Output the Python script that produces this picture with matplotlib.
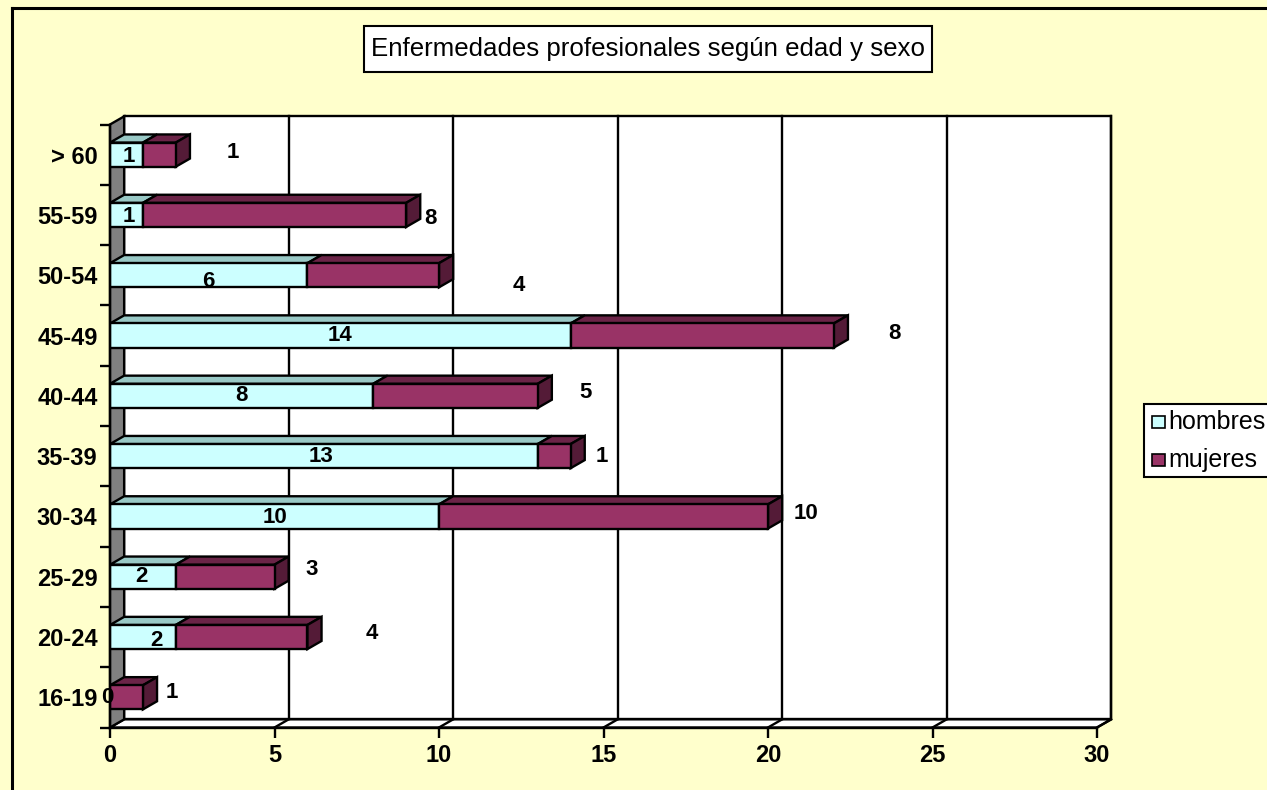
import numpy as np
import matplotlib
matplotlib.use("Agg")
import matplotlib.pyplot as plt
from matplotlib.patches import Polygon, Rectangle
from matplotlib.lines import Line2D
from matplotlib import transforms

# ========== data ==========
categories = ["16-19", "20-24", "25-29", "30-34", "35-39",
              "40-44", "45-49", "50-54", "55-59", "> 60"]
hombres = [0, 2, 2, 10, 13, 8, 14, 6, 1, 1]
mujeres = [1, 4, 3, 10, 1, 5, 8, 4, 8, 1]
x_ticks = [0, 5, 10, 15, 20, 25, 30]
series_names = ["hombres", "mujeres"]
title = "Enfermedades profesionales según edad y sexo"

# ========== style / layout ==========
plt.rcParams["font.family"] = ["Liberation Sans", "DejaVu Sans"]

BG = "#FFFFCC"
COL_H, COL_H_TOP = "#CCFFFF", "#99C9C6"
COL_M, COL_M_TOP, COL_M_SIDE = "#993366", "#6B2447", "#541B37"
WALL = "#808080"
LW = 1.7

W, H = 1267, 790
PX_X, PX_Y = 32.9, 60.3      # pixels per x unit / per category
DX, DY = 0.43, 0.135          # 3D depth in data units
BAR_H = 0.4
X_MAX = x_ticks[-1]

# label nudges in pixels (Excel puts them a bit off)
h_lab_off = [(-3, 0), (14, 3), (-1, 0), (0, 1), (-3, 0), (0, 0), (0, 0), (0, 6), (2, 2), (2, 2)]
m_lab_off = [(29, -5), (64, -4), (37, -7), (38, -3), (31, 0),
             (48, -3), (61, -2), (80, 10), (24, 4), (57, -2)]


def fx(px):
    return px / W


def fy(py):
    return 1 - py / H


n = len(categories)
y = np.arange(n)
h = np.array(hombres, dtype=float)
m = np.array(mujeres, dtype=float)

fig = plt.figure(figsize=(W / 100, H / 100), dpi=100, facecolor=BG)
ax_w = PX_X * (X_MAX + DX)
ax_h = PX_Y * (n + DY)
ax = fig.add_axes([fx(110), fy(727.5), ax_w / W, ax_h / H])
ax.set_facecolor("none")
ax.set_xlim(0, X_MAX + DX)
ax.set_ylim(-0.5, n - 0.5 + DY)

y0, y1 = -0.5, n - 0.5

# back wall + grid
ax.add_patch(Rectangle((DX, y0 + DY), X_MAX, n, facecolor="white",
                       edgecolor="black", lw=LW, zorder=1, clip_on=False))
# floor
ax.add_patch(Polygon([(0, y0), (X_MAX, y0), (X_MAX + DX, y0 + DY), (DX, y0 + DY)],
                     closed=True, facecolor="white", edgecolor="black", lw=LW,
                     zorder=1.2, clip_on=False))
for t in x_ticks[1:]:
    ax.plot([t + DX, t + DX], [y0 + DY, y1 + DY], color="black", lw=LW, zorder=1.5,
            clip_on=False)
    ax.plot([t, t + DX], [y0, y0 + DY], color="black", lw=LW, zorder=1.5, clip_on=False)
# left wall
ax.add_patch(Polygon([(0, y0), (DX, y0 + DY), (DX, y1 + DY), (0, y1)],
                     closed=True, facecolor=WALL, edgecolor="black", lw=LW,
                     zorder=2, clip_on=False))

# front faces through barh
ax.barh(y, h, height=BAR_H, color=COL_H, edgecolor="black", lw=LW, zorder=5)
ax.barh(y, m, height=BAR_H, left=h, color=COL_M, edgecolor="black", lw=LW, zorder=5)

# tops and sides
for i in range(n):
    top = y[i] + BAR_H / 2
    bot = y[i] - BAR_H / 2
    end = h[i] + m[i]
    if h[i] > 0:
        ax.add_patch(Polygon([(0, top), (h[i], top), (h[i] + DX, top + DY), (DX, top + DY)],
                             closed=True, facecolor=COL_H_TOP, edgecolor="black",
                             lw=LW, zorder=4, clip_on=False))
    if m[i] > 0:
        ax.add_patch(Polygon([(h[i], top), (end, top), (end + DX, top + DY), (h[i] + DX, top + DY)],
                             closed=True, facecolor=COL_M_TOP, edgecolor="black",
                             lw=LW, zorder=4, clip_on=False))
    ax.add_patch(Polygon([(end, bot), (end + DX, bot + DY), (end + DX, top + DY), (end, top)],
                         closed=True, facecolor=COL_M_SIDE if m[i] > 0 else COL_H_TOP,
                         edgecolor="black", lw=LW, zorder=4, clip_on=False))

# value labels
for i in range(n):
    ox, oy = h_lab_off[i]
    tr = transforms.offset_copy(ax.transData, fig=fig, x=ox, y=-oy, units="dots")
    ax.text(h[i] / 2, y[i], f"{int(h[i])}", transform=tr, ha="center", va="center",
            fontsize=16, fontweight="bold", zorder=8)
    ox, oy = m_lab_off[i]
    tr = transforms.offset_copy(ax.transData, fig=fig, x=ox, y=-oy, units="dots")
    ax.text(h[i] + m[i], y[i], f"{int(m[i])}", transform=tr, ha="center", va="center",
            fontsize=16, fontweight="bold", zorder=8)

# axes
for s in ["top", "right"]:
    ax.spines[s].set_visible(False)
for s in ["left", "bottom"]:
    ax.spines[s].set_linewidth(LW)
    ax.spines[s].set_zorder(6)
ax.spines["bottom"].set_bounds(0, X_MAX)
ax.spines["left"].set_bounds(y0, y1)

ax.set_xticks(x_ticks)
ax.tick_params(axis="x", length=7.2, width=LW, direction="out", pad=5, labelsize=17)
ax.set_yticks(y, categories)
ax.set_yticks(np.arange(n + 1) - 0.5, minor=True)
ax.tick_params(axis="y", which="major", length=0, pad=9, labelsize=17)
ax.tick_params(axis="y", which="minor", length=7.2, width=LW, direction="out")
plt.setp(ax.get_xticklabels() + ax.get_yticklabels(), fontweight="bold")

# outer frame
fig.add_artist(Line2D([fx(12), fx(12)], [fy(8), fy(800)], color="black", lw=2.2,
                      transform=fig.transFigure))
fig.add_artist(Line2D([fx(12), fx(1280)], [fy(8), fy(8)], color="black", lw=2.2,
                      transform=fig.transFigure))

# title box
fig.add_artist(Rectangle((fx(364), fy(72)), (932 - 364) / W, 46 / H, facecolor="white",
                         edgecolor="black", lw=1.5, transform=fig.transFigure))
fig.text(fx(648), fy(49), title, ha="center", va="center", fontsize=18.6)

# legend box
fig.add_artist(Rectangle((fx(1144), fy(477)), 140 / W, 73 / H, facecolor="white",
                         edgecolor="black", lw=1.5, transform=fig.transFigure))
for k, (name, col) in enumerate(zip(series_names, [COL_H, COL_M])):
    cy = 422 + 38 * k
    fig.add_artist(Rectangle((fx(1152), fy(cy + 6)), 13 / W, 12 / H, facecolor=col,
                             edgecolor="black", lw=1.2, transform=fig.transFigure))
    fig.text(fx(1168), fy(cy), name, ha="left", va="center", fontsize=18)

fig.savefig("out.png", dpi=100, facecolor=BG)
